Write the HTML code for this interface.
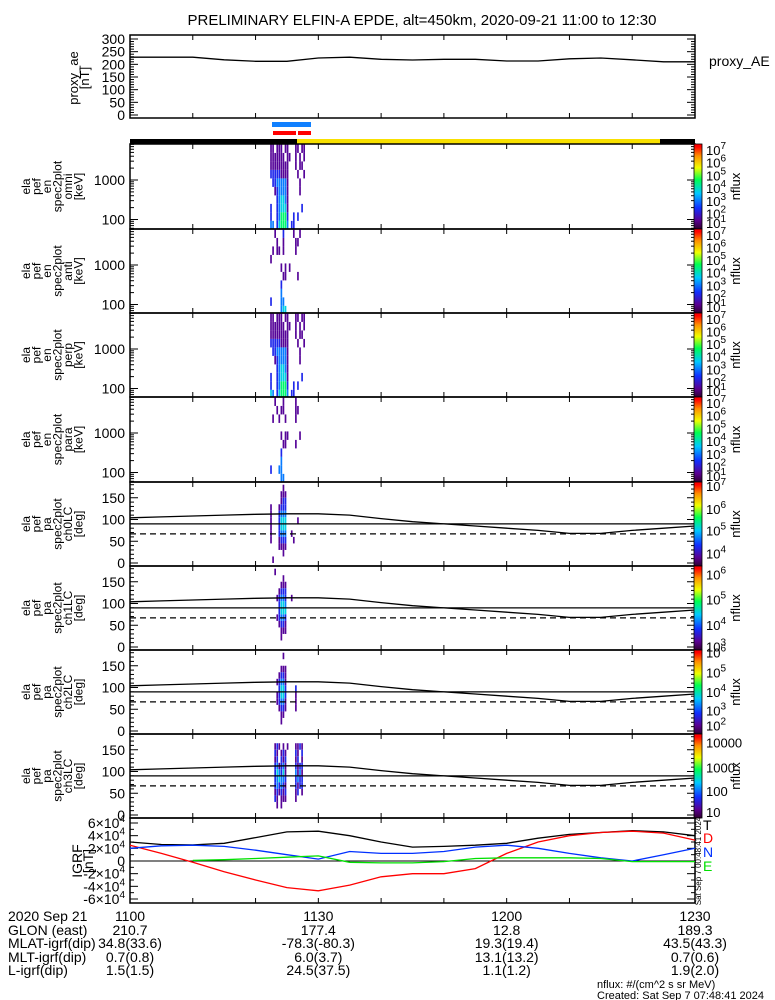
<!DOCTYPE html>
<html><head><meta charset="utf-8"><style>
html,body{margin:0;padding:0;background:#fff;}
svg{display:block;font-family:"Liberation Sans",sans-serif;}
</style></head><body>
<svg id="chart" width="775" height="1000" viewBox="0 0 775 1000" xmlns="http://www.w3.org/2000/svg">
<defs>
<linearGradient id="cbar" x1="0" y1="1" x2="0" y2="0">
<stop offset="0" stop-color="#300030"/><stop offset="0.1" stop-color="#5a0090"/>
<stop offset="0.25" stop-color="#1030ff"/><stop offset="0.42" stop-color="#00c8ff"/>
<stop offset="0.58" stop-color="#00ff50"/><stop offset="0.72" stop-color="#f0ff00"/>
<stop offset="0.86" stop-color="#ff9000"/><stop offset="0.97" stop-color="#ff0000"/><stop offset="1" stop-color="#ff0000"/>
</linearGradient>
</defs>
<text x="422" y="25" font-size="15" text-anchor="middle">PRELIMINARY ELFIN-A EPDE, alt=450km, 2020-09-21 11:00 to 12:30</text>
<g id="g"></g>
</svg>
<script>
// ---- data ----
const timeTicksMin = [0,10,20,30,40,50,60,70,80,90];
const sampleMin = [0,5,10,15,20,25,30,35,40,45,50,55,60,65,70,75,80,85,90];
const aeValues = [228,228,228,218,212,212,225,228,220,217,220,220,213,213,222,225,218,210,210];
const igrfT = [30000,26000,25500,28000,37000,46000,47000,40000,30000,22000,23000,25000,28000,36000,42000,45000,48000,46000,40000];
const igrfD = [25000,12000,-2000,-17000,-30000,-42000,-47000,-38000,-25000,-20000,-20000,-12000,12000,30000,40000,45000,47000,44000,33000];
const igrfN = [20000,24000,25000,23000,17000,10000,3000,15000,12000,12000,15000,22000,25000,20000,12000,5000,0,10000,20000];
const igrfE = [null,null,1000,2000,4000,6000,8000,-2000,-3000,-3000,-1000,4000,5000,5000,5000,4000,-1000,-1000,-1000];
const lcCurve = [104,106,108,110,112,113,113,110,102,95,90,85,80,75,68,68,75,80,85];
const lcLine = 90, lcDash = 67;
const specStartMin = 22.0, specStepMin = 0.33;
const specOmni = ["0220222022000220220000","0222222202200202020000","0222222222000202200000","0333332222000020020000","0033444442000002000000","0002344442000002000000","0000345542000000000000","0300345552000000300000","0300346663003030000000","0440356664033000000000"];
const specAnti = ["0002000300002002000000","0000200200000220000000","0020220200000200000000","0200000000000000000000","0000002020200000000000","0000000220000020000000","0000003000000000000000","0000004000000000000000","0300004400000000000000","0000004550000000000000"];
const specPerp = ["0220222022000220220000","0222222202200202020000","0222222222000202200000","0333332222000020020000","0033444442000002000000","0002344442000002000000","0000345542000000000000","0300345552000000300000","0300346663003030000000","0540356664033000000000"];
const specPara = ["0002000200000200000000","0000202200000220000000","0020020020000200000000","0000000000000000000000","0000002022000002000000","0000000220000200000000","0000003000000000000000","0000004000000000000000","0300044000000000000000","0000004400000000000000"];
const pa0 = ["0000000200000000000000","0000002220000000000000","0000002330000000000000","0200023330000000000000","0200034440000000000000","0200035550000020000000","0200035550000000000000","0200034440020000000000","0200023330002000000000","0000022220000000000000","0000000200000000000000","0020000000000000000000"];
const pa1 = ["0002000000000000000000","0000000200000000000000","0000002220000000000000","0000023330000000000000","0000234430020000000000","0000035540000000000000","0000035550000000000000","0000234430000000000000","0000023320000000000000","0000002220000000000000","0000002000000000000000","0000000000000000000000"];
const pa2 = ["0000000200000000000000","0000000000000000000000","0000002220000000000000","0000023320000000000000","0000234420000000000000","0000035530000300000000","0000235530000200000000","0000234420000200000000","0000023320000200000000","0000002200000000000000","0000002000000000000000","0000000000000000000000"];
const pa3 = ["0000000000000000000000","0002320202000223200000","0003202320000320300000","0002303230000230200000","0003423420000323300000","0003543520000424200000","0003454430000343300000","0003434320000323300000","0002323230000230200000","0003202220000200000000","0000202000000000000000","0000000000000000000000"];
const specCbLabels = [7,6,5,4,3,2,1];
const pa0CbLabels = [7,6,5,4];
const pa1CbLabels = [6,5,4,3];
const pa2CbLabels = [6,5,4,3,2];
const pa3CbLabels = ["10000","1000","100","10"];

// ---- layout ----
const NS="http://www.w3.org/2000/svg";
const G=document.getElementById('g');
const X0=130,X1=695;
const xS=t=>X0+(X1-X0)*t/90;
function mk(tag,attrs,parent){const e=document.createElementNS(NS,tag);for(const k in attrs)e.setAttribute(k,attrs[k]);(parent||G).appendChild(e);return e;}
function txt(s,x,y,size,anchor,fill,parent){const t=mk('text',{x:x,y:y,'font-size':size,'text-anchor':anchor||'start',fill:fill||'#000'},parent);t.textContent=s;return t;}
const stops=[[0,[48,0,48]],[0.1,[90,0,144]],[0.25,[16,48,255]],[0.42,[0,200,255]],[0.58,[0,255,80]],[0.72,[240,255,0]],[0.86,[255,144,0]],[1,[255,0,0]]];
function cmap(f){for(let i=1;i<stops.length;i++){if(f<=stops[i][0]){const a=stops[i-1],b=stops[i];const u=(f-a[0])/(b[0]-a[0]);const c=a[1].map((v,j)=>Math.round(v+(b[1][j]-v)*u));return `rgb(${c[0]},${c[1]},${c[2]})`;}}return 'rgb(255,0,0)';}

function frame(name,top,bot){
  const g=mk('g',{});
  
  
  mk('rect',{x:X0,y:top,width:X1-X0,height:bot-top,fill:'none',stroke:'#000','stroke-width':1.5},g);
  timeTicksMin.forEach(t=>{const x=xS(t);mk('line',{x1:x,y1:top,x2:x,y2:top+5,stroke:'#000'},g);mk('line',{x1:x,y1:bot,x2:x,y2:bot-5,stroke:'#000'},g);});
  return g;
}
function yTick(g,y,len){mk('line',{x1:X0,y1:y,x2:X0+len,y2:y,stroke:'#000'},g);mk('line',{x1:X1,y1:y,x2:X1-len,y2:y,stroke:'#000'},g);}
function leftLabel(name,lines,cy,x0,dx,size){
  const g=mk('g',{});
  
  
  lines.forEach((s,i)=>{const x=x0+i*dx;const t=txt(s,x,cy,size,'middle','#000',g);t.setAttribute('transform',`rotate(-90 ${x} ${cy})`);});
}
function colorbar(name,top,bot,labels,fracs,sup){
  const g=mk('g',{});
  
  
  mk('rect',{x:694,y:top,width:8,height:bot-top,fill:'url(#cbar)',stroke:'#000','stroke-width':0.8},g);
  labels.forEach((v,i)=>{const y=top+(bot-top)*fracs[i]+5;
    const t=txt('',706,y,13,'start','#000',g);
    if(sup){const a=mk('tspan',{},t);a.textContent='10';const b=mk('tspan',{dy:-6,'font-size':10},t);b.textContent=String(v);}
    else t.textContent=v;});
  const cy=(top+bot)/2;const t=txt('nflux',740,cy,13,'middle','#000',g);t.setAttribute('transform',`rotate(-90 740 ${cy})`);
}
function cells(name,mat,top,bot,bandFn){
  const g=mk('g',{});
  
  
  mat.forEach((row,r)=>{for(let c=0;c<row.length;c++){const d=+row[c];if(!d)continue;
    const t0=specStartMin+c*specStepMin;const x=xS(t0);const w=xS(t0+specStepMin)-x-0.4;
    const [ya,yb]=bandFn(r,mat.length);
    const cell=mk('rect',{x:x,y:ya,width:Math.max(w,1),height:yb-ya,fill:cmap((d-1)/9)},g);
    
    
  }});
}
function line(name,vals,yfn,color,g,dash){
  const pts=[];sampleMin.forEach((t,i)=>{if(vals[i]!==null)pts.push(xS(t).toFixed(1)+','+yfn(vals[i]).toFixed(1));});
  const p=mk('polyline',{points:pts.join(' '),fill:'none',stroke:color,'stroke-width':1.3},g);
  
  
  if(dash)p.setAttribute('stroke-dasharray',dash);
}

// ---- AE panel ----
{const top=35,bot=118;const yA=v=>115-v*0.2533;
 const g=frame('proxy-ae-panel',top,bot);
 for(let v=0;v<=300;v+=10)yTick(g,yA(v),v%50===0?8:4);
 [0,50,100,150,200,250,300].forEach(v=>txt(String(v),125,yA(v)+5,14,'end','#000',g));
 line('proxy-ae-line',aeValues,yA,'#000',g);
 leftLabel('proxy-ae-axis-title',['proxy_ae','[nT]'],78,78,11,13);
 const l=txt('proxy_AE',709,66,14,'start','#000');}

// ---- status bars ----
{const b=mk('rect',{x:272,y:122,width:39,height:5,fill:'#1080ff'});
 const r1=mk('rect',{x:273,y:131,width:23,height:4,fill:'#f00'});
 const r2=mk('rect',{x:298,y:131,width:13,height:4,fill:'#f00'});
 const k1=mk('rect',{x:130,y:139,width:167,height:5,fill:'#000'});
 const yb=mk('rect',{x:297,y:139,width:363,height:5,fill:'#f8e000'});
 const k2=mk('rect',{x:660,y:139,width:35,height:5,fill:'#000'});}

// ---- energy spectrograms ----
const specPanels=[['omni',specOmni,144,229],['anti',specAnti,229,313],['perp',specPerp,313,397],['para',specPara,397,482]];
const cbFr=[0.07,0.22,0.37,0.52,0.67,0.82,0.93];
specPanels.forEach(([nm,mat,top,bot])=>{
  const yE=lg=>top+36+(3-lg)*39.5; // log10 keV -> y
  cells('spec-'+nm+'-cells',mat,top,bot,(r,n)=>{const hi=3.9-r*(2.15/n),lo=hi-2.15/n;return [Math.max(top,yE(hi)),Math.min(bot,yE(lo))];});
  const g=frame('spec-'+nm+'-panel',top,bot);
  for(let d=1;d<=3;d++)for(let m=1;m<10;m++){const y=yE(d+Math.log10(m));if(y>top&&y<bot)yTick(g,y,m===1?8:4);}
  txt('1000',125,yE(3)+5,14,'end','#000',g);txt('100',125,yE(2)+5,14,'end','#000',g);
  leftLabel('spec-'+nm+'-axis-title',['ela','pef','en','spec2plot',nm,'[keV]'],(top+bot)/2,30,10.5,12);
  colorbar('spec-'+nm+'-colorbar',top,bot,specCbLabels,cbFr,true);
});

// ---- pitch angle panels ----
const paPanels=[['ch0LC',pa0,482,566,pa0CbLabels,[0.05,0.32,0.58,0.85],true],['ch1LC',pa1,566,650,pa1CbLabels,[0.1,0.4,0.7,0.96],true],['ch2LC',pa2,650,734,pa2CbLabels,[0.03,0.27,0.5,0.72,0.9],true],['ch3LC',pa3,734,818,pa3CbLabels,[0.1,0.4,0.68,0.93],false]];
paPanels.forEach(([nm,mat,top,bot,lab,fr,sup])=>{
  const yP=d=>bot-3-d*0.435;
  cells('pa-'+nm+'-cells',mat,top,bot,(r,n)=>[yP(180-r*15),yP(165-r*15)]);
  const g=frame('pa-'+nm+'-panel',top,bot);
  for(let d=0;d<=180;d+=10)yTick(g,yP(d),d%50===0?8:4);
  [0,50,100,150].forEach(v=>txt(String(v),125,yP(v)+5,14,'end','#000',g));
  const l1=mk('line',{x1:X0,x2:X1,y1:yP(lcLine),y2:yP(lcLine),stroke:'#000','stroke-width':1.3},g);
  
  const l2=mk('line',{x1:X0,x2:X1,y1:yP(lcDash),y2:yP(lcDash),stroke:'#000','stroke-width':1.3,'stroke-dasharray':'6,4'},g);
  
  line('anti-loss-cone-curve',lcCurve,yP,'#000',g);
  leftLabel('pa-'+nm+'-axis-title',['ela','pef','pa','spec2plot',nm,'[deg]'],(top+bot)/2,30,10.5,12);
  colorbar('pa-'+nm+'-colorbar',top,bot,lab,fr,sup);
});

// ---- IGRF panel ----
{const top=818,bot=903;const yI=v=>861-v*38/60000;
 const g=frame('igrf-panel',top,bot);
 for(let v=-60000;v<=60000;v+=10000)yTick(g,yI(v),v%20000===0?8:4);
 [60000,40000,20000,-20000,-40000,-60000].forEach(v=>{const t=txt('',125,yI(v)+5,14,'end','#000',g);const a=mk('tspan',{},t);a.textContent=(v/10000)+'×10';const b=mk('tspan',{dy:-6,'font-size':10},t);b.textContent='4';});
 txt('0',125,yI(0)+5,14,'end','#000',g);
 const z=mk('line',{x1:X0,x2:X1,y1:yI(0),y2:yI(0),stroke:'#000'},g);
 line('igrf-total-line',igrfT,yI,'#000',g);
 line('igrf-d-line',igrfD,yI,'#f00',g);
 line('igrf-n-line',igrfN,yI,'#0030ff',g);
 line('igrf-e-line',igrfE,yI,'#00e000',g);
 leftLabel('igrf-axis-title',['IGRF','[nT]'],861,82,11,14);
 [['T','#000',830],['D','#f00',843],['N','#0030ff',857],['E','#00e000',871]].forEach(([s,c,y])=>{const t=txt(s,703,y,14,'start',c);});
 const st=txt('Sat Sep  7 00:48:41 2024',0,0,8,'middle','#000');st.setAttribute('transform','translate(701 861) rotate(-90)');}

// ---- orbit table ----
const rowLabels=['2020 Sep 21','GLON (east)','MLAT-igrf(dip)','MLT-igrf(dip)','L-igrf(dip)'];
const colTimes=['1100','1130','1200','1230'];
const colGlon=['210.7','177.4','12.8','189.3'];
const colMlat=['34.8(33.6)','-78.3(-80.3)','19.3(19.4)','43.5(43.3)'];
const colMlt=['0.7(0.8)','6.0(3.7)','13.1(13.2)','0.7(0.6)'];
const colL=['1.5(1.5)','24.5(37.5)','1.1(1.2)','1.9(2.0)'];
{const g=mk('g',{});
 const ys=[921,935,948,962,975];
 rowLabels.forEach((s,i)=>txt(s,8,ys[i],14,'start','#000',g));
 [colTimes,colGlon,colMlat,colMlt,colL].forEach((arr,r)=>arr.forEach((s,c)=>txt(s,xS(c*30),ys[r],14,'middle','#000',g)));
 txt('nflux: #/(cm^2 s sr MeV)',597,988,11,'start','#000',g);
 txt('Created: Sat Sep  7 07:48:41 2024',597,999,11,'start','#000',g);}
</script>
</body></html>
